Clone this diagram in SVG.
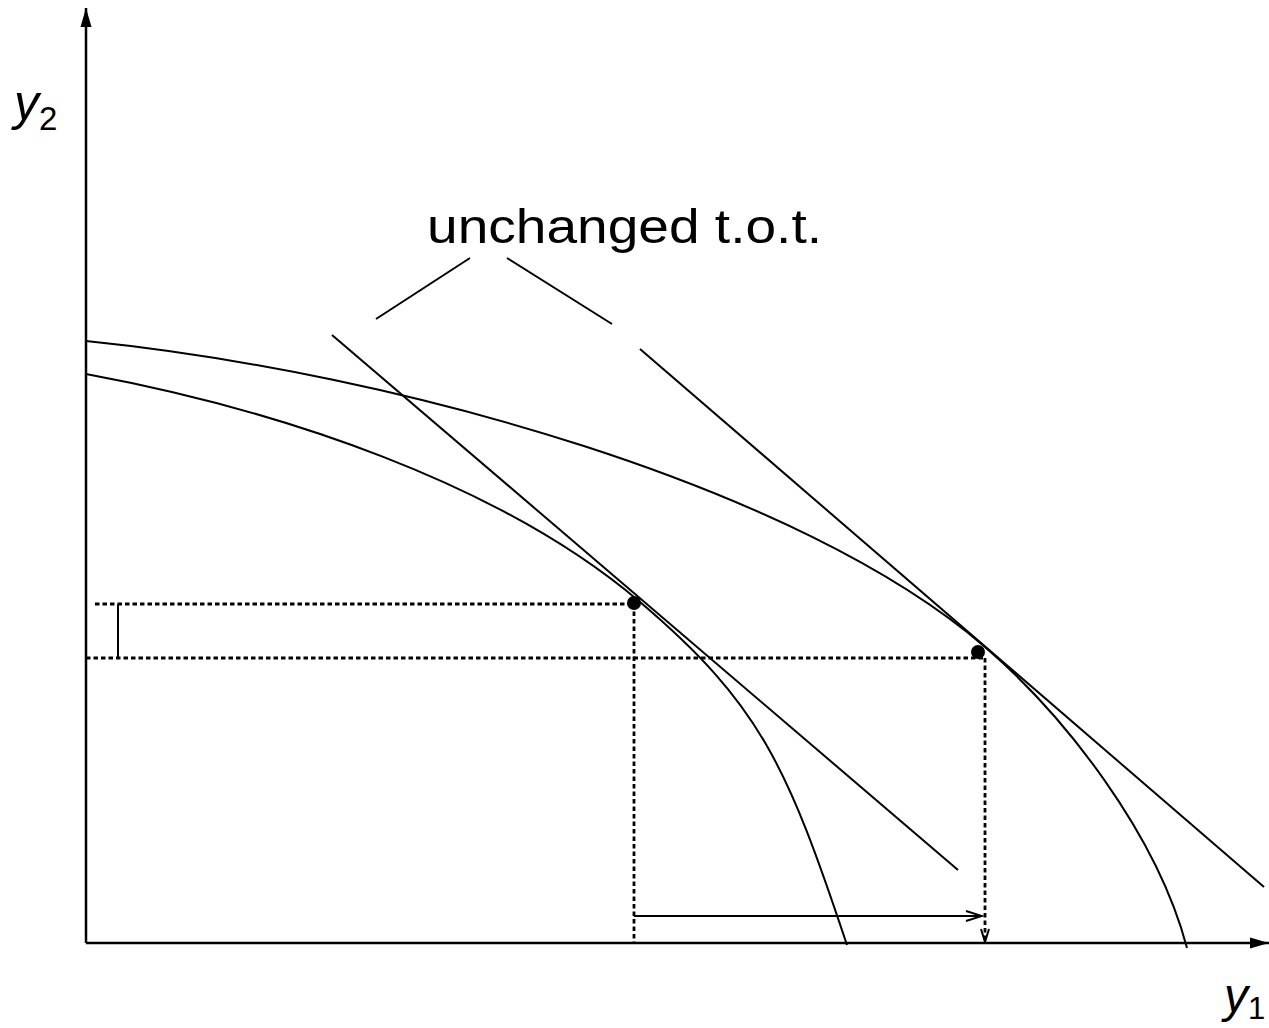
<svg xmlns="http://www.w3.org/2000/svg" width="1269" height="1028" viewBox="0 0 1269 1028">
<style>
.ax{stroke:#000;stroke-width:2.5;fill:none}
.ln{stroke:#000;stroke-width:2;fill:none}
.dot{stroke:#000;stroke-width:2.8;stroke-dasharray:4.5 3;fill:none}
.lbl{font-family:"Liberation Sans","DejaVu Sans",sans-serif;fill:#000}
.var{font-style:italic}
</style>
<defs>
<marker id="solidArrow" markerUnits="userSpaceOnUse" markerWidth="20" markerHeight="12" refX="19" refY="6" orient="auto">
<path d="M0,0.5 L19,6 L0,11.5 Z" fill="#000" stroke="none"/>
</marker>
<marker id="openArrow" markerUnits="userSpaceOnUse" markerWidth="20" markerHeight="14" refX="17" refY="6" orient="auto">
<path d="M1,1 L17,6 L1,11" fill="none" stroke="#000" stroke-width="2" stroke-dasharray="none"/>
</marker>
<marker id="smallArrow" markerUnits="userSpaceOnUse" markerWidth="16" markerHeight="12" refX="14" refY="5" orient="auto">
<path d="M1,1 L14,5 L1,9" fill="none" stroke="#000" stroke-width="2" stroke-dasharray="none"/>
</marker>
</defs>
<rect width="1269" height="1028" fill="#fff"/>
<g id="axes">
<line class="ax" x1="86" y1="943" x2="86" y2="8" marker-end="url(#solidArrow)"/>
<line class="ax" x1="86" y1="943" x2="1269" y2="943" marker-end="url(#solidArrow)"/>
<text class="lbl var" x="14" y="120" font-size="50">y</text>
<text class="lbl" x="39" y="130" font-size="33">2</text>
<text class="lbl var" x="1224" y="1012" font-size="48">y</text>
<text class="lbl" x="1248" y="1019" font-size="31">1</text>
</g>
<g id="curves">
<path id="inner-ppf" class="ln" d="M86,374 C280,410 500,483 640,602 C760,704 787,765 847,945"/>
<path id="outer-ppf" class="ln" d="M86,341 C400,373 800,487 985,647 C1065,716 1157,834 1187,948"/>
</g>
<g id="tangents">
<line class="ln" x1="332" y1="335" x2="958" y2="870"/>
<line class="ln" x1="640" y1="349" x2="1264" y2="887"/>
</g>
<g id="label">
<text class="lbl" x="427" y="243" font-size="48" textLength="395" lengthAdjust="spacingAndGlyphs">unchanged t.o.t.</text>
<line class="ln" x1="376" y1="319" x2="470" y2="258"/>
<line class="ln" x1="507" y1="258" x2="612" y2="324"/>
</g>
<g id="guides">
<line class="dot" x1="95" y1="604" x2="634" y2="604"/>
<line class="dot" x1="86" y1="658" x2="985" y2="658"/>
<line class="dot" x1="634" y1="604" x2="634" y2="943"/>
<line class="dot" x1="985" y1="658" x2="985" y2="942" marker-end="url(#smallArrow)"/>
<line class="ln" x1="118" y1="604" x2="118" y2="658"/>
<line class="ln" x1="634" y1="916" x2="982" y2="916" marker-end="url(#openArrow)"/>
</g>
<g id="points">
<circle cx="634" cy="603" r="7" fill="#000"/>
<circle cx="978" cy="652" r="7" fill="#000"/>
</g>
</svg>
